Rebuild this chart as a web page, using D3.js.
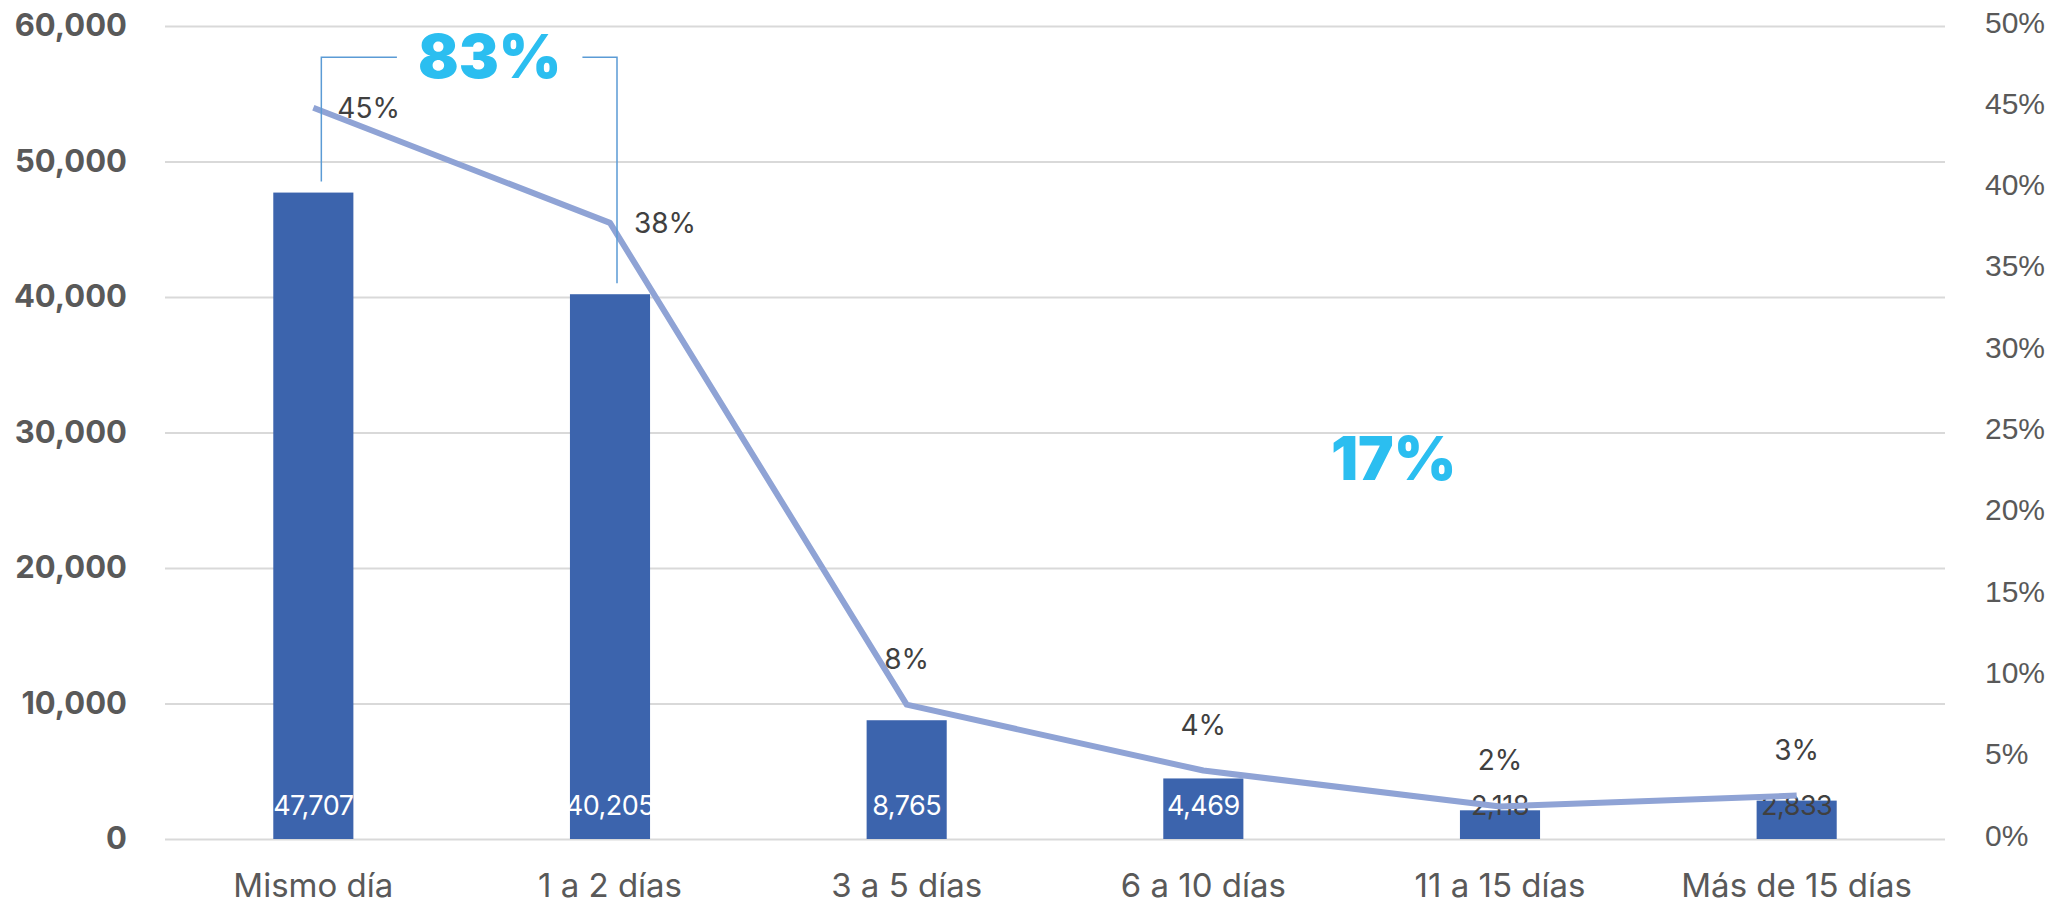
<!DOCTYPE html>
<meta charset="utf-8">
<script src="https://d3js.org/d3.v7.min.js"></script>
<style>
  body { margin: 0; background: #fff; }
  svg text { font-family: Inter, "Open Sans", sans-serif; }
</style>
<div id="chart"></div>
<script>
// data
var categories = ["Mismo día", "1 a 2 días", "3 a 5 días", "6 a 10 días", "11 a 15 días", "Más de 15 días"];
var counts = [47707, 40205, 8765, 4469, 2118, 2833];
var shares = [0.4497, 0.3789, 0.0826, 0.0421, 0.0200, 0.0267];
var leftTicks = [0, 10000, 20000, 30000, 40000, 50000, 60000];
var rightTicks = [0, 0.05, 0.10, 0.15, 0.20, 0.25, 0.30, 0.35, 0.40, 0.45, 0.50];
var groupA = ["Mismo día", "1 a 2 días"], groupALabel = "83%";
var groupB = ["3 a 5 días", "6 a 10 días", "11 a 15 días", "Más de 15 días"], groupBLabel = "17%";

var W = 2069, H = 904;
var margin = {top: 26, right: 124, bottom: 65, left: 165};

var svg = d3.select("#chart").append("svg")
  .attr("width", W)
  .attr("height", H);

var x = d3.scaleBand()
  .domain(categories)
  .range([margin.left, W - margin.right])
  .paddingInner(0.73)
  .paddingOuter(0.365);

var y = d3.scaleLinear()
  .domain([0, 60000])
  .range([H - margin.bottom, margin.top]);

var y2 = d3.scaleLinear()
  .domain([0, 0.5])
  .range([H - margin.bottom, margin.top]);

var cx = function(c) { return x(c) + x.bandwidth() / 2; };

// gridlines
svg.append("g")
  .attr("transform", "translate(" + margin.left + ",0)")
  .call(d3.axisLeft(y).tickValues(leftTicks).tickSize(-(W - margin.left - margin.right)).tickFormat(""))
  .call(g => g.select(".domain").remove())
  .call(g => g.selectAll("line").attr("stroke", "#d9d9d9").attr("stroke-width", 2));

// left axis
svg.append("g")
  .attr("transform", "translate(" + margin.left + ",0)")
  .call(d3.axisLeft(y).tickValues(leftTicks).tickSize(0).tickPadding(38).tickFormat(d3.format(",")))
  .call(g => g.select(".domain").remove())
  .call(g => g.selectAll("text")
    .attr("fill", "#595959")
    .style("font-size", "31px")
    .style("font-weight", 700));

// right axis
svg.append("g")
  .attr("transform", "translate(" + (W - margin.right) + ",0)")
  .call(d3.axisRight(y2).tickValues(rightTicks).tickSize(0).tickPadding(40).tickFormat(d3.format(".0%")))
  .call(g => g.select(".domain").remove())
  .call(g => g.selectAll("text")
    .attr("fill", "#595959")
    .attr("dy", "0.2em")
    .style("font-family", "'Liberation Sans', Arial, sans-serif")
    .style("font-size", "30px"));

// category labels
svg.append("g")
  .selectAll("text")
  .data(categories)
  .join("text")
  .attr("x", d => cx(d))
  .attr("y", H - 7)
  .attr("text-anchor", "middle")
  .attr("fill", "#595959")
  .style("font-size", "33px")
  .text(d => d);

// bars
svg.append("g")
  .selectAll("rect")
  .data(counts)
  .join("rect")
  .attr("x", (d, i) => x(categories[i]))
  .attr("y", d => y(d))
  .attr("width", x.bandwidth())
  .attr("height", d => y(0) - y(d))
  .attr("fill", "#3c64ad");

// bar value labels
svg.append("g")
  .selectAll("text")
  .data(counts)
  .join("text")
  .attr("x", (d, i) => cx(categories[i]))
  .attr("y", y(0) - 24)
  .attr("text-anchor", "middle")
  .attr("fill", d => y(d) > y(0) - 50 ? "#404040" : "#ffffff")
  .style("font-size", "27px")
  .style("letter-spacing", "-0.5px")
  .text(d => d3.format(",")(d));

// share line
var line = d3.line()
  .x((d, i) => cx(categories[i]))
  .y(d => y2(d));

svg.append("path")
  .datum(shares)
  .attr("d", line)
  .attr("fill", "none")
  .attr("stroke", "#8fa3d5")
  .attr("stroke-width", 6)
  .attr("stroke-linejoin", "round");

// share labels: first two to the right, rest above
svg.append("g")
  .selectAll("text")
  .data(shares)
  .join("text")
  .attr("x", (d, i) => i < 2 ? cx(categories[i]) + 24 : cx(categories[i]))
  .attr("y", (d, i) => i < 2 ? y2(d) : y2(d) - 36)
  .attr("dy", (d, i) => i < 2 ? "0.35em" : 0)
  .attr("text-anchor", (d, i) => i < 2 ? "start" : "middle")
  .attr("fill", "#404040")
  .style("font-size", "28px")
  .text(d => d3.format(".0%")(d));

// bracket for first group
var bTop = y(57700);
var xa = cx(groupA[0]) + 8, xb = cx(groupA[1]) + 7;
var labelA = svg.append("text")
  .attr("x", (cx(groupA[0]) + cx(groupA[1])) / 2 + 28)
  .attr("y", y(57700) + 21)
  .attr("text-anchor", "middle")
  .attr("fill", "#2bbef0")
  .style("font-size", "60px")
  .style("font-weight", 900)
  .text(groupALabel);
var bb = labelA.node().getBBox();

var bracket = svg.append("g")
  .attr("fill", "none")
  .attr("stroke", "#5b9bd5")
  .attr("stroke-width", 1.5);
bracket.append("path")
  .attr("d", d3.line()([[xa, y(counts[0]) - 11], [xa, bTop], [bb.x - 21, bTop]]));
bracket.append("path")
  .attr("d", d3.line()([[bb.x + bb.width + 21, bTop], [xb, bTop], [xb, y(counts[1]) - 11]]));

// label for second group
svg.append("text")
  .attr("x", d3.mean(groupB, c => cx(c)) + 42)
  .attr("y", y(26500))
  .attr("text-anchor", "middle")
  .attr("fill", "#2bbef0")
  .style("font-size", "60px")
  .style("font-weight", 900)
  .text(groupBLabel);
</script>
